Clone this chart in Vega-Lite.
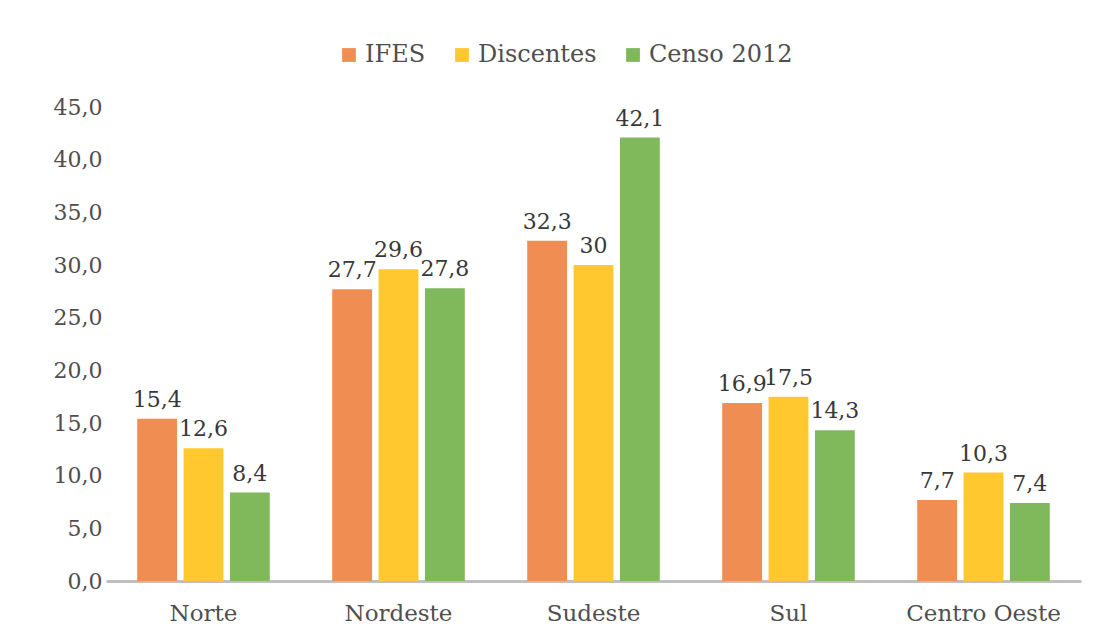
{
  "$schema": "https://vega.github.io/schema/vega-lite/v6.json",
  "width": 975,
  "height": 474,
  "autosize": "none",
  "padding": {"left": 106, "top": 107, "right": 15, "bottom": 60},
  "background": "white",
  "config": {
    "view": {"stroke": null},
    "font": "DejaVu Serif",
    "locale": {"number": {"decimal": ",", "thousands": ".", "grouping": [3], "currency": ["R$", ""]}}
  },
  "data": {
    "values": [
      {"regiao": "Norte", "serie": "IFES", "valor": 15.4},
      {"regiao": "Norte", "serie": "Discentes", "valor": 12.6},
      {"regiao": "Norte", "serie": "Censo 2012", "valor": 8.4},
      {"regiao": "Nordeste", "serie": "IFES", "valor": 27.7},
      {"regiao": "Nordeste", "serie": "Discentes", "valor": 29.6},
      {"regiao": "Nordeste", "serie": "Censo 2012", "valor": 27.8},
      {"regiao": "Sudeste", "serie": "IFES", "valor": 32.3},
      {"regiao": "Sudeste", "serie": "Discentes", "valor": 30},
      {"regiao": "Sudeste", "serie": "Censo 2012", "valor": 42.1},
      {"regiao": "Sul", "serie": "IFES", "valor": 16.9},
      {"regiao": "Sul", "serie": "Discentes", "valor": 17.5},
      {"regiao": "Sul", "serie": "Censo 2012", "valor": 14.3},
      {"regiao": "Centro Oeste", "serie": "IFES", "valor": 7.7},
      {"regiao": "Centro Oeste", "serie": "Discentes", "valor": 10.3},
      {"regiao": "Centro Oeste", "serie": "Censo 2012", "valor": 7.4}
    ]
  },
  "encoding": {
    "x": {
      "field": "regiao", "type": "nominal", "sort": null,
      "scale": {"paddingInner": 0.32, "paddingOuter": 0.16},
      "axis": {
        "title": null, "labelAngle": 0, "ticks": false,
        "domainColor": "#BFBFBF", "domainWidth": 3,
        "labelFont": "DejaVu Serif", "labelFontSize": 23, "labelColor": "#4F4F4F",
        "labelPadding": 21
      }
    },
    "xOffset": {
      "field": "serie", "type": "nominal", "sort": ["IFES", "Discentes", "Censo 2012"],
      "scale": {"paddingInner": 0.14}
    },
    "y": {
      "field": "valor", "type": "quantitative",
      "scale": {"domain": [0, 45], "nice": false},
      "axis": {
        "title": null, "values": [0, 5, 10, 15, 20, 25, 30, 35, 40, 45],
        "format": ".1f", "grid": false, "domain": false, "ticks": false,
        "labelFont": "DejaVu Serif", "labelFontSize": 22, "labelColor": "#4F4F4F",
        "labelPadding": 4
      }
    }
  },
  "layer": [
    {
      "mark": {"type": "bar"},
      "encoding": {
        "color": {
          "field": "serie", "type": "nominal", "sort": ["IFES", "Discentes", "Censo 2012"],
          "scale": {"domain": ["IFES", "Discentes", "Censo 2012"], "range": ["#F08D52", "#FFC82E", "#80B85C"]},
          "legend": {
            "title": null, "orient": "none", "direction": "horizontal",
            "legendX": 231, "legendY": -64,
            "symbolType": "square", "symbolSize": 190, "symbolStrokeWidth": 0,
            "labelFont": "DejaVu Serif", "labelFontSize": 24, "labelColor": "#4F4F4F",
            "labelOffset": 4, "columnPadding": 24
          }
        }
      }
    },
    {
      "mark": {"type": "text", "baseline": "bottom", "dy": -7, "font": "DejaVu Serif", "fontSize": 22, "color": "#383838"},
      "encoding": {
        "text": {"field": "valor", "type": "quantitative", "format": "~g"}
      }
    }
  ]
}
